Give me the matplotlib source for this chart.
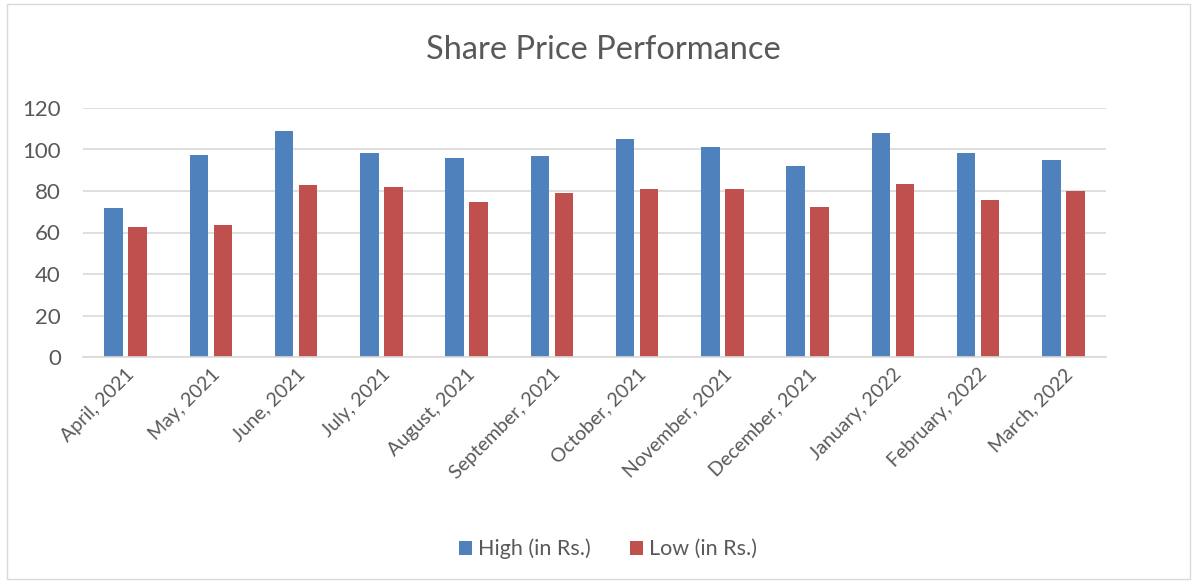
import matplotlib.pyplot as plt
import numpy as np
from matplotlib.patches import Rectangle

months = ['April, 2021', 'May, 2021', 'June, 2021', 'July, 2021', 'August, 2021',
          'September, 2021', 'October, 2021', 'November, 2021', 'December, 2021',
          'January, 2022', 'February, 2022', 'March, 2022']
high = [72, 97.4, 109, 98.4, 96, 96.8, 105.3, 101.4, 91.9, 108.1, 98.1, 94.8]
low = [62.8, 63.4, 82.8, 82.1, 74.9, 78.9, 81, 81, 72.5, 83.3, 75.8, 79.9]

plt.rcParams['font.family'] = ['Lato', 'DejaVu Sans']
text_color = '#595959'
blue = '#4f81bd'
red = '#c0504d'

fig = plt.figure(figsize=(11.95, 5.83), dpi=100)
ax = fig.add_axes([83 / 1195, 1 - 357 / 583, (1106 - 83) / 1195, (357 - 108) / 583])

x = np.arange(len(months))
w = 0.217
off = 0.142
ax.bar(x - off, high, w, color=blue, label='High (in Rs.)')
ax.bar(x + off, low, w, color=red, label='Low (in Rs.)')

ax.set_xlim(-0.5, len(months) - 0.5)
ax.set_ylim(0, 120)
ax.set_yticks(range(0, 121, 20))
ax.yaxis.grid(True, color='#d9d9d9', linewidth=1.2)
ax.set_axisbelow(True)
for s in ['top', 'right', 'left']:
    ax.spines[s].set_visible(False)
ax.spines['bottom'].set_color('#d9d9d9')
ax.spines['bottom'].set_linewidth(1.2)
ax.tick_params(axis='both', length=0, labelcolor=text_color)
ax.tick_params(axis='y', pad=16, labelsize=16)
ax.set_xticks(x)
ax.set_xticklabels(months, rotation=45, ha='right', rotation_mode='anchor')
ax.tick_params(axis='x', pad=6, labelsize=14)

fig.text(603 / 1195, 1 - 50 / 583, 'Share Price Performance', ha='center', va='center',
         fontsize=23.5, color=text_color)
fig.legend(loc='center', bbox_to_anchor=(608 / 1195, 1 - 549 / 583), ncol=2,
           frameon=False, fontsize=15.5, labelcolor=text_color, handlelength=0.6,
           handleheight=0.6, handletextpad=0.3, columnspacing=1.8)

fig.patches.append(Rectangle((7 / 1195, 4 / 583), 1183 / 1195, 575 / 583,
                             transform=fig.transFigure, fill=False,
                             edgecolor='#d9d9d9', linewidth=1))

fig.savefig('out.png', dpi=100)
